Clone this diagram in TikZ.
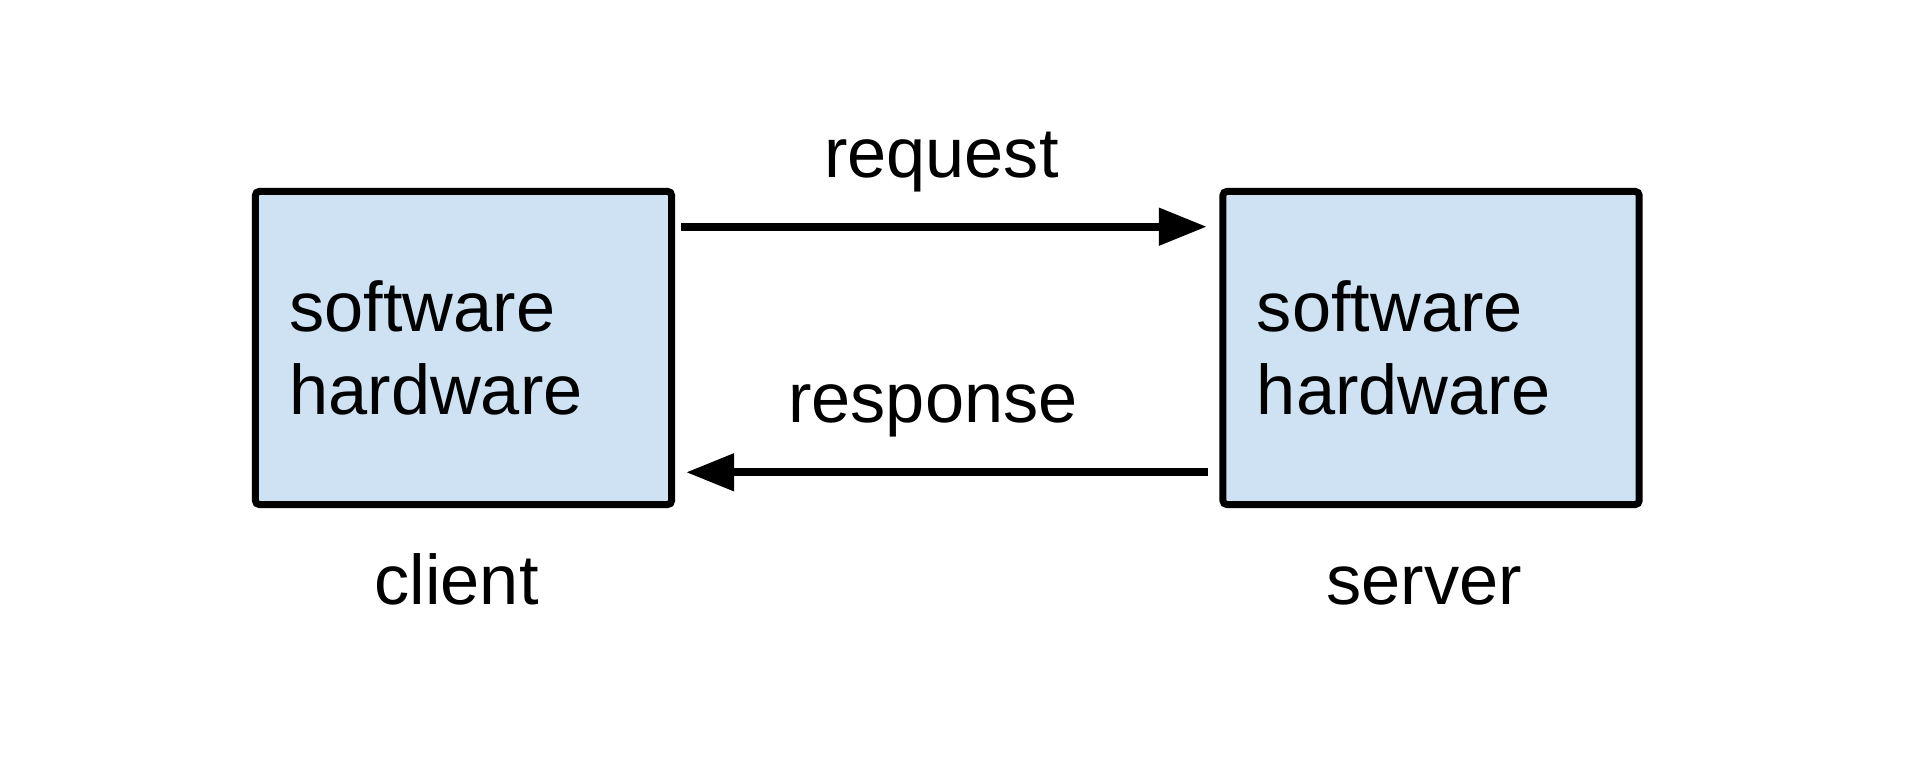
\documentclass[tikz,border=0pt]{standalone}
\usepackage{fontspec}
\setmainfont{Liberation Sans}
\usepackage{tikz}
\usetikzlibrary{arrows.meta, positioning, calc}
\definecolor{boxblue}{RGB}{207,226,243}
\tikzset{
  host_box/.style={
      rectangle,
      rounded corners=0.04cm,
      draw, fill=boxblue,
      line width=0.07cm,
      minimum width=4.16cm,
      minimum height=3.13cm,
      inner xsep=0.34cm,
      text width=3.48cm,
      align=left,
      font=\fontsize{20}{23.6}\selectfont,
    },
  msg_text/.style={
      inner sep=0pt,
      font=\fontsize{20}{24}\selectfont,
    },
  host_name/.style={
      inner sep=0pt,
      text height=14.6pt,
      xshift=-0.07cm,
      font=\fontsize{20}{24}\selectfont,
    },
  msgarrow/.style={
      line width=0.08cm,
      -{Triangle[length=0.48cm,width=0.36cm]},
    },
}

\begin{document}
\begin{tikzpicture}[x=0.01cm, y=-0.01cm]
      \useasboundingbox (0,0) rectangle (1920,758);
      \node[host_box] (client_box) at (463.5,348) {software\\hardware};
      \node[host_box, right=5.44cm of client_box] (server_box) {software\\hardware};
      \node[host_name, below=0.44cm of client_box] (client_name) {client};
      \node[host_name, below=0.44cm of server_box] (server_name) {server};
      \draw[msgarrow] ($(client_box.east)+(6,-121.3)$) -- node[msg_text, pos=0.495, above=0.31cm] (req_text) {request} ($(server_box.west)+(-12.6,-121.3)$);
      \draw[msgarrow] ($(server_box.west)+(-11.6,124.3)$) -- node[msg_text, pos=0.527, above=0.31cm] (resp_text) {response} ($(client_box.east)+(11,124.3)$);
    \end{tikzpicture}
\end{document}
